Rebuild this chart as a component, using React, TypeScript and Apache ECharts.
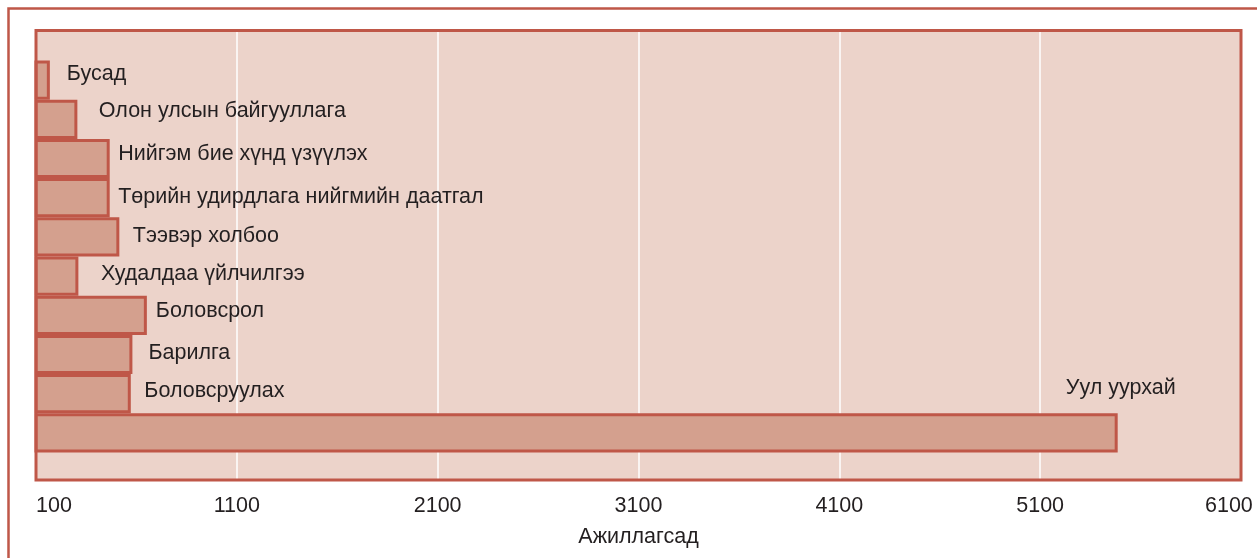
import React, { useEffect, useRef } from "react";
import * as echarts from "echarts";

const categories = [
  "Уул уурхай",
  "Боловсруулах",
  "Барилга",
  "Боловсрол",
  "Худалдаа үйлчилгээ",
  "Тээвэр холбоо",
  "Төрийн удирдлага нийгмийн даатгал",
  "Нийгэм бие хүнд үзүүлэх",
  "Олон улсын байгууллага",
  "Бусад",
];
const values = [5486, 572, 580, 652, 311, 515, 467, 467, 306, 169];
const xMin = 100;
const xMax = 6100;
const xInterval = 1000;
const axisName = "Ажиллагсад";

// label placement tweaks (distance from bar end, vertical shift)
const labelDistance = [0, 13.5, 16, 9, 22.5, 13.5, 8.5, 8.5, 21.5, 17];
const labelShiftY = [0, -3.5, -3, -5.5, -3, -1.5, -2, -5.5, -9, -7.5];

const RED = "#bf5748";
const FILL = "#d4a08e";
const BG = "#ecd3ca";
const TEXT = "#231f20";
const FONT = "Liberation Sans, Arial, sans-serif";
const FS = 21.5;

const GRID_LEFT = 36;
const GRID_TOP = 30.5;
const GRID_W = 1205;
const GRID_H = 449.5;

export default function App() {
  const ref = useRef<HTMLDivElement>(null);
  useEffect(() => {
    if (!ref.current) return;
    const chart = echarts.init(ref.current, undefined, { renderer: "svg" });
    const data = values.map((v, i) => {
      if (i === 0) {
        return {
          value: v,
          label: {
            show: true,
            position: ["100%", -26],
            align: "center",
            verticalAlign: "middle",
            offset: [3, 0],
          },
        };
      }
      return {
        value: v,
        label: {
          show: true,
          position: "right",
          distance: labelDistance[i],
          offset: [0, labelShiftY[i]],
        },
      };
    });
    chart.setOption({
      animation: false,
      textStyle: { fontFamily: FONT },
      graphic: [
        {
          type: "rect",
          shape: { x: 8.5, y: 8.5, width: 1400, height: 700 },
          style: { fill: "none", stroke: RED, lineWidth: 2.5 },
          z: 100,
          silent: true,
        },
        {
          type: "rect",
          shape: { x: GRID_LEFT, y: GRID_TOP, width: GRID_W, height: GRID_H },
          style: { fill: "none", stroke: RED, lineWidth: 3 },
          z: 100,
          silent: true,
        },
      ],
      grid: [
        {
          left: GRID_LEFT,
          top: GRID_TOP,
          width: GRID_W,
          height: GRID_H,
          show: true,
          backgroundColor: BG,
          borderWidth: 0,
          containLabel: false,
        },
        {
          left: GRID_LEFT,
          top: 60.5,
          width: GRID_W,
          height: 392,
          containLabel: false,
        },
      ],
      xAxis: [
        {
          type: "value",
          gridIndex: 0,
          min: xMin,
          max: xMax,
          interval: xInterval,
          axisLine: { show: false },
          axisTick: { show: false },
          splitLine: {
            show: true,
            showMinLine: false,
            showMaxLine: false,
            lineStyle: { color: "#ffffff", width: 1.5 },
          },
          axisLabel: {
            color: TEXT,
            fontSize: FS,
            fontFamily: FONT,
            margin: 14,
            alignMinLabel: "left",
            alignMaxLabel: "center",
            formatter: (v: number) => (v === xMax ? "{r|" + v + "}" : String(v)),
            rich: {
              r: {
                width: 72,
                align: "left",
                color: TEXT,
                fontSize: FS,
                fontFamily: FONT,
              },
            },
          },
          name: axisName,
          nameLocation: "middle",
          nameGap: 45,
          nameTextStyle: { color: TEXT, fontSize: FS, fontFamily: FONT },
        },
        {
          type: "value",
          gridIndex: 1,
          min: xMin,
          max: xMax,
          interval: xInterval,
          show: false,
        },
      ],
      yAxis: [
        { type: "value", gridIndex: 0, show: false },
        {
          type: "category",
          gridIndex: 1,
          data: categories,
          show: false,
        },
      ],
      series: [
        {
          type: "bar",
          xAxisIndex: 1,
          yAxisIndex: 1,
          data,
          barCategoryGap: 0,
          itemStyle: { color: FILL, borderColor: RED, borderWidth: 3 },
          label: {
            show: true,
            color: TEXT,
            fontSize: FS,
            fontFamily: FONT,
            formatter: (p: any) => categories[p.dataIndex],
          },
        },
      ],
    });
    return () => chart.dispose();
  }, []);
  return (
    <div
      ref={ref}
      style={{ position: "fixed", left: 0, top: 0, width: 1257, height: 558 }}
    />
  );
}
